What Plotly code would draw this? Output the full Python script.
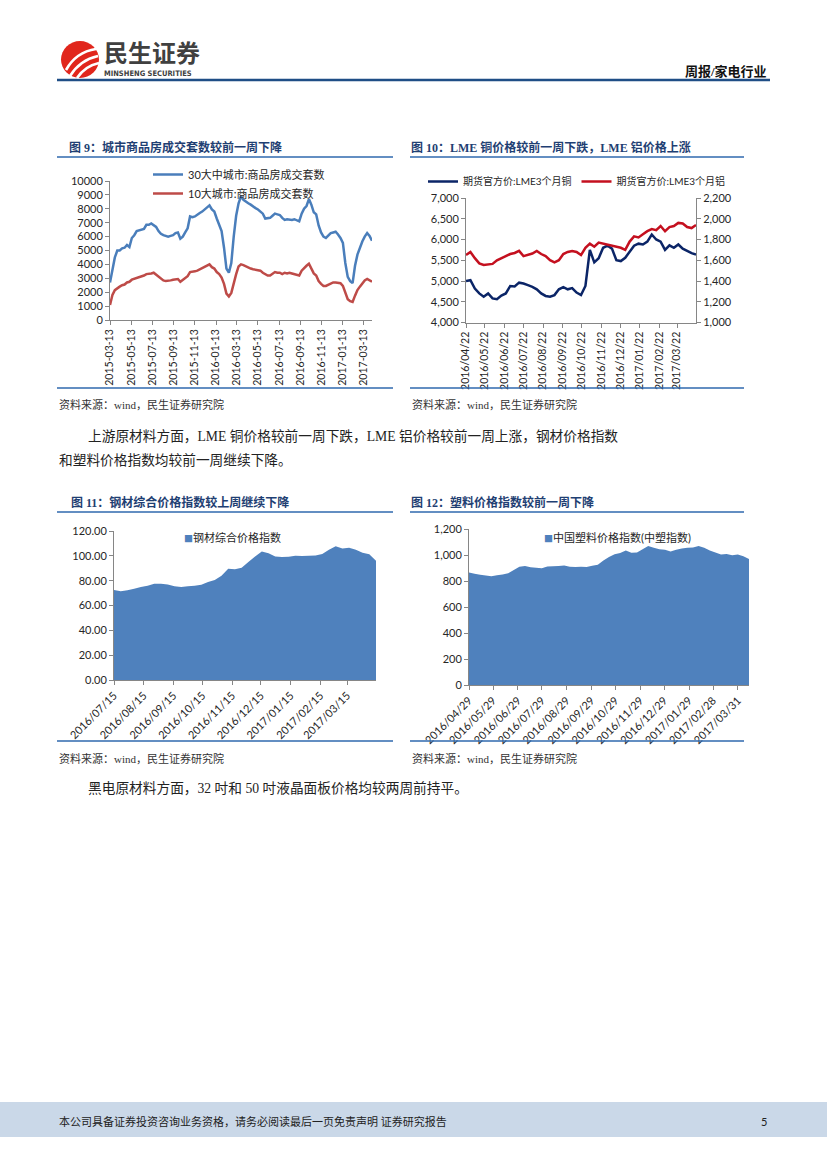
import plotly.graph_objects as go
import pandas as pd

W, H = 827, 1169


def px(x):
    return x / W


def py(y):
    return 1 - y / H


# ---------------- 图9: 城市商品房成交套数 (weekly) ----------------
fig9_dates = pd.date_range("2015-03-13", periods=109, freq="7D")
fig9_city30 = [
    2700, 3600, 4500, 5000, 5000, 5150, 5200, 5400, 5250, 5900,
    6100, 6400, 6450, 6500, 6550, 6850, 6850, 6950, 6850, 6700,
    6400, 6200, 6100, 6050, 6000, 6050, 6100, 6250, 6300, 5850,
    6000, 6300, 6600, 7450, 7400, 7450, 7600, 7700, 7800, 7950,
    8100, 8250, 7950, 7800, 7300, 6900, 6400, 5200, 3700, 3400,
    4100, 6000, 7500, 8400, 8900, 8650, 8500, 8400, 8300, 8150,
    8050, 7950, 7800, 7650, 7300, 7300, 7350, 7500, 7650, 7600,
    7550, 7350, 7200, 7250, 7200, 7200, 7250, 7150, 7100, 7650,
    8000, 8200, 8700, 8300, 7750, 7600, 6800, 6300, 6000, 5900,
    6050, 6250, 6300, 6350, 6150, 5900, 5550, 4100, 3100, 2800,
    2650, 3900, 4700, 5200, 5650, 6000, 6250, 6050, 5700,
]
fig9_city10 = [
    1080, 1800, 2150, 2300, 2400, 2500, 2550, 2700, 2750, 2900,
    2950, 3050, 3050, 3150, 3200, 3300, 3300, 3350, 3400, 3250,
    3150, 2950, 2850, 2800, 2800, 2850, 2900, 2950, 2950, 2750,
    2900, 3050, 3150, 3450, 3450, 3500, 3550, 3650, 3750, 3800,
    3950, 4000, 3800, 3700, 3450, 3300, 3050, 2600, 1900, 1700,
    1950, 2700, 3300, 3850, 4000, 3950, 3850, 3750, 3700, 3650,
    3600, 3600, 3550, 3400, 3300, 3200, 3200, 3350, 3450, 3400,
    3400, 3300, 3400, 3350, 3400, 3350, 3300, 3300, 3200, 3550,
    3750, 3900, 4050, 3700, 3350, 3200, 2800, 2600, 2450, 2450,
    2550, 2650, 2700, 2700, 2700, 2650, 2450, 1950, 1500, 1350,
    1300, 1750, 2150, 2400, 2600, 2850, 2950, 2850, 2750,
]

# ---------------- 图10: LME 铜 / 铝 (weekly) ----------------
fig10_dates = pd.date_range("2016-04-22", periods=53, freq="7D")
fig10_copper = [
    5000, 5020, 4820, 4700, 4620, 4700, 4580, 4560, 4650, 4700,
    4880, 4870, 4960, 4940, 4900, 4860, 4800, 4700, 4640, 4620,
    4660, 4800, 4850, 4800, 4830, 4720, 4660, 4880, 5750, 5450,
    5550, 5800, 5850, 5780, 5500, 5480, 5560, 5700, 5850, 5900,
    5880, 5950, 6120, 6000, 5950, 5750, 5860, 5800, 5880, 5780,
    5720, 5670, 5640,
]
fig10_alu = [
    1650, 1680, 1620, 1570, 1555, 1560, 1565, 1600, 1620, 1640,
    1660, 1670, 1690, 1640, 1650, 1665, 1690, 1660, 1640, 1600,
    1580, 1600, 1660, 1680, 1690, 1680, 1650, 1720, 1760, 1730,
    1770, 1760, 1750, 1740, 1730, 1720, 1700, 1780, 1830, 1820,
    1850, 1880, 1900, 1890, 1930, 1880, 1920, 1930, 1960, 1955,
    1920, 1910, 1940,
]

# ---------------- 图11: 钢材综合价格指数 (weekly) ----------------
fig11_dates = pd.date_range("2016-07-15", periods=40, freq="7D")
fig11_steel = [
    72.5, 71.5, 72.3, 73.5, 74.8, 76.0, 77.5, 77.5, 77.0, 75.5,
    75.0, 75.5, 76.0, 76.8, 79.0, 80.5, 84.0, 89.5, 89.2, 90.5,
    95.0, 99.5, 103.5, 102.0, 99.5, 99.0, 99.3, 100.0, 99.8, 100.0,
    100.2, 101.5, 105.0, 107.8, 106.0, 106.5, 104.8, 102.5, 101.2, 96.0,
]

# ---------------- 图12: 中国塑料价格指数 (weekly) ----------------
fig12_dates = pd.date_range("2016-04-29", periods=51, freq="7D")
fig12_plastic = [
    866, 855, 848, 842, 836, 845, 850, 860, 885, 910,
    915, 905, 902, 898, 912, 914, 916, 920, 910, 908,
    910, 908, 918, 925, 958, 985, 1005, 1015, 1035, 1018,
    1020, 1045, 1070, 1055, 1045, 1040, 1027, 1040, 1050, 1055,
    1058, 1070, 1055, 1035, 1020, 1004, 1008, 998, 1003, 990,
    970,
]
fig12_tickvals = [
    "2016-04-29", "2016-05-29", "2016-06-29", "2016-07-29", "2016-08-29",
    "2016-09-29", "2016-10-29", "2016-11-29", "2016-12-29", "2017-01-29",
    "2017-02-28", "2017-03-31",
]
fig12_ticktext = [v.replace("-", "/") for v in fig12_tickvals]

SANS = "Lato, Noto Sans CJK SC, sans-serif"
SERIF = "Liberation Serif, Noto Sans CJK SC, serif"
AXC = "#868686"
TXT = "#262626"
TITLE_C = "#1F3F73"
RULE_C = "#2F68AE"

fig = go.Figure()

fig.add_trace(go.Scatter(x=fig9_dates, y=fig9_city30, name="30大中城市:商品房成交套数",
                         mode="lines", line=dict(color="#4A7EBB", width=2.5),
                         xaxis="x", yaxis="y", legend="legend"))
fig.add_trace(go.Scatter(x=fig9_dates, y=fig9_city10, name="10大城市:商品房成交套数",
                         mode="lines", line=dict(color="#BE4B48", width=2.5),
                         xaxis="x", yaxis="y", legend="legend"))
fig.add_trace(go.Scatter(x=fig10_dates, y=fig10_copper, name="期货官方价:LME3个月铜",
                         mode="lines", line=dict(color="#0B2567", width=2.5),
                         xaxis="x2", yaxis="y2", legend="legend2"))
fig.add_trace(go.Scatter(x=fig10_dates, y=fig10_alu, name="期货官方价:LME3个月铝",
                         mode="lines", line=dict(color="#C4101F", width=2.5),
                         xaxis="x2", yaxis="y3", legend="legend2"))
fig.add_trace(go.Scatter(x=fig11_dates, y=fig11_steel, name="钢材综合价格指数",
                         mode="none", fill="tozeroy", fillcolor="#4F81BD",
                         xaxis="x3", yaxis="y4", showlegend=False))
fig.add_trace(go.Scatter(x=fig12_dates, y=fig12_plastic, name="中国塑料价格指数(中塑指数)",
                         mode="none", fill="tozeroy", fillcolor="#4F81BD",
                         xaxis="x4", yaxis="y5", showlegend=False))


def ax(**kw):
    base = dict(showgrid=False, zeroline=False, showline=True, linecolor=AXC, linewidth=1,
                ticks="outside", ticklen=4, tickcolor=AXC, tickwidth=1, automargin=False,
                tickfont=dict(family=SANS, size=11, color=TXT))
    base.update(kw)
    return base


datefont = dict(family=SANS, size=10.5, color=TXT)

fig.update_layout(
    width=W, height=H, margin=dict(l=0, r=0, t=0, b=0, autoexpand=False),
    paper_bgcolor="white", plot_bgcolor="rgba(0,0,0,0)",
    font=dict(family=SANS, color=TXT),
    xaxis=ax(domain=[px(110), px(372)], anchor="y", type="date",
             range=[fig9_dates[0], fig9_dates[-1]], tick0="2015-03-13", dtick="M2",
             tickformat="%Y-%m-%d", tickangle=-90, tickfont=datefont),
    yaxis=ax(domain=[py(320), py(181)], anchor="x", range=[0, 10000], dtick=1000,
             tickformat="d"),
    xaxis2=ax(domain=[px(466), px(696)], anchor="y2", type="date",
              range=["2016-04-22", "2017-04-21"], tick0="2016-04-22", dtick="M1",
              tickformat="%Y/%m/%d", tickangle=-90, tickfont=datefont),
    yaxis2=ax(domain=[py(322.5), py(198)], anchor="x2", range=[4000, 7000], dtick=500,
              tickformat=",d"),
    yaxis3=ax(overlaying="y2", anchor="x2", side="right", range=[1000, 2200], dtick=200,
              tickformat=",d"),
    xaxis3=ax(domain=[px(114), px(376)], anchor="y4", type="date",
              range=["2016-07-15", "2017-04-14"], tick0="2016-07-15", dtick="M1",
              tickformat="%Y/%m/%d", tickangle=-45, tickfont=dict(family=SANS, size=11, color=TXT)),
    yaxis4=ax(domain=[py(680), py(531)], anchor="x3", range=[0, 120], dtick=20,
              tickformat=".2f"),
    xaxis4=ax(domain=[px(469), px(749)], anchor="y5", type="date",
              range=["2016-04-29", "2017-04-14"], tickmode="array",
              tickvals=fig12_tickvals, ticktext=fig12_ticktext,
              tickangle=-45, tickfont=dict(family=SANS, size=11, color=TXT)),
    yaxis5=ax(domain=[py(685), py(529)], anchor="x4", range=[0, 1200], dtick=200,
              tickformat=",d"),
    legend=dict(x=px(148), y=py(160), xanchor="left", yanchor="top",
                orientation="v", bgcolor="rgba(0,0,0,0)", tracegroupgap=0,
                font=dict(family=SANS, size=11, color=TXT), itemwidth=30),
    legend2=dict(x=px(423), y=py(167), xanchor="left", yanchor="top",
                 orientation="h", bgcolor="rgba(0,0,0,0)",
                 font=dict(family=SANS, size=10, color=TXT), itemwidth=30),
)

shapes = []


def hline(x0, x1, y, color, width):
    shapes.append(dict(type="line", xref="paper", yref="paper", x0=px(x0), x1=px(x1),
                       y0=py(y), y1=py(y), line=dict(color=color, width=width)))


# header rule
hline(57, 770, 80, "#1F4E86", 2.5)
# chart title rules & bottom rules
for (a, b) in [(57, 393), (410, 744)]:
    hline(a, b, 157, RULE_C, 1.3)
    hline(a, b, 388, RULE_C, 1.3)
    hline(a, b, 512, RULE_C, 1.3)
    hline(a, b, 741, RULE_C, 1.3)

# footer band
shapes.append(dict(type="rect", xref="paper", yref="paper", x0=0, x1=1,
                   y0=py(1137), y1=py(1102), fillcolor="#CAD8E8", line=dict(width=0),
                   layer="below"))

# logo circle
shapes.append(dict(type="circle", xref="paper", yref="paper", x0=px(61), x1=px(99),
                   y0=py(78), y1=py(41), fillcolor="#E1261C", line=dict(width=0)))


def P(x, y):
    return f"{px(x):.5f},{py(y):.5f}"


for (sx, sy, cx, cy, ex, ey) in [(66, 70, 76, 52, 96, 49), (70, 76, 80, 60, 98, 56),
                                 (77, 78, 85, 66, 99, 63)]:
    shapes.append(dict(type="path", xref="paper", yref="paper",
                       path=f"M {P(sx, sy)} Q {P(cx, cy)} {P(ex, ey)}",
                       line=dict(color="white", width=2.6)))

fig.update_layout(shapes=shapes)

ann = []


def text(x, y, s, size, color=TXT, family=SANS, xanchor="left"):
    ann.append(dict(xref="paper", yref="paper", x=px(x), y=py(y), text=s, showarrow=False,
                    xanchor=xanchor, yanchor="middle", align=xanchor,
                    font=dict(family=family, size=size, color=color)))


# header
text(102, 51.5, "<b>民生证券</b>", 24, "#404040", "Noto Sans CJK SC")
text(102, 73.5, "<b>MINSHENG SECURITIES</b>", 7.5, "#404040", "DejaVu Sans Condensed")
text(769, 71, "<b>周报/家电行业</b>", 13, "#111111", SERIF, xanchor="right")

# chart titles
text(67, 148, "<b>图 9：城市商品房成交套数较前一周下降</b>", 12, TITLE_C, SERIF)
text(409, 148, "<b>图 10：LME 铜价格较前一周下跌，LME 铝价格上涨</b>", 12, TITLE_C, SERIF)
text(69, 502, "<b>图 11：钢材综合价格指数较上周继续下降</b>", 12, TITLE_C, SERIF)
text(409, 502, "<b>图 12：塑料价格指数较前一周下降</b>", 12, TITLE_C, SERIF)

# sources
for (x, y) in [(57, 404), (410, 404), (57, 758), (410, 758)]:
    text(x, y, "资料来源：wind，民生证券研究院", 11, "#333333", SERIF)

# body text
text(86, 436, "上游原材料方面，LME 铜价格较前一周下跌，LME 铝价格较前一周上涨，钢材价格指数", 13.7, "#222222", SERIF)
text(57, 460, "和塑料价格指数均较前一周继续下降。", 13.7, "#222222", SERIF)
text(86, 788, "黑电原材料方面，32 吋和 50 吋液晶面板价格均较两周前持平。", 13.7, "#222222", SERIF)

# area chart legends
text(182, 537, "<span style='color:#4F81BD;font-size:9px'>■</span>钢材综合价格指数", 11)
text(542, 537, "<span style='color:#4F81BD;font-size:9px'>■</span>中国塑料价格指数(中塑指数)", 11)

# footer
text(57, 1121, "本公司具备证券投资咨询业务资格，请务必阅读最后一页免责声明 证券研究报告", 11, "#222222", SANS)
text(769, 1121, "5", 11, "#222222", SANS, xanchor="right")

fig.update_layout(annotations=ann)

fig.write_html("out.html", config={"displayModeBar": False},
               post_script="document.body.style.margin='0';document.body.style.padding='0';")
